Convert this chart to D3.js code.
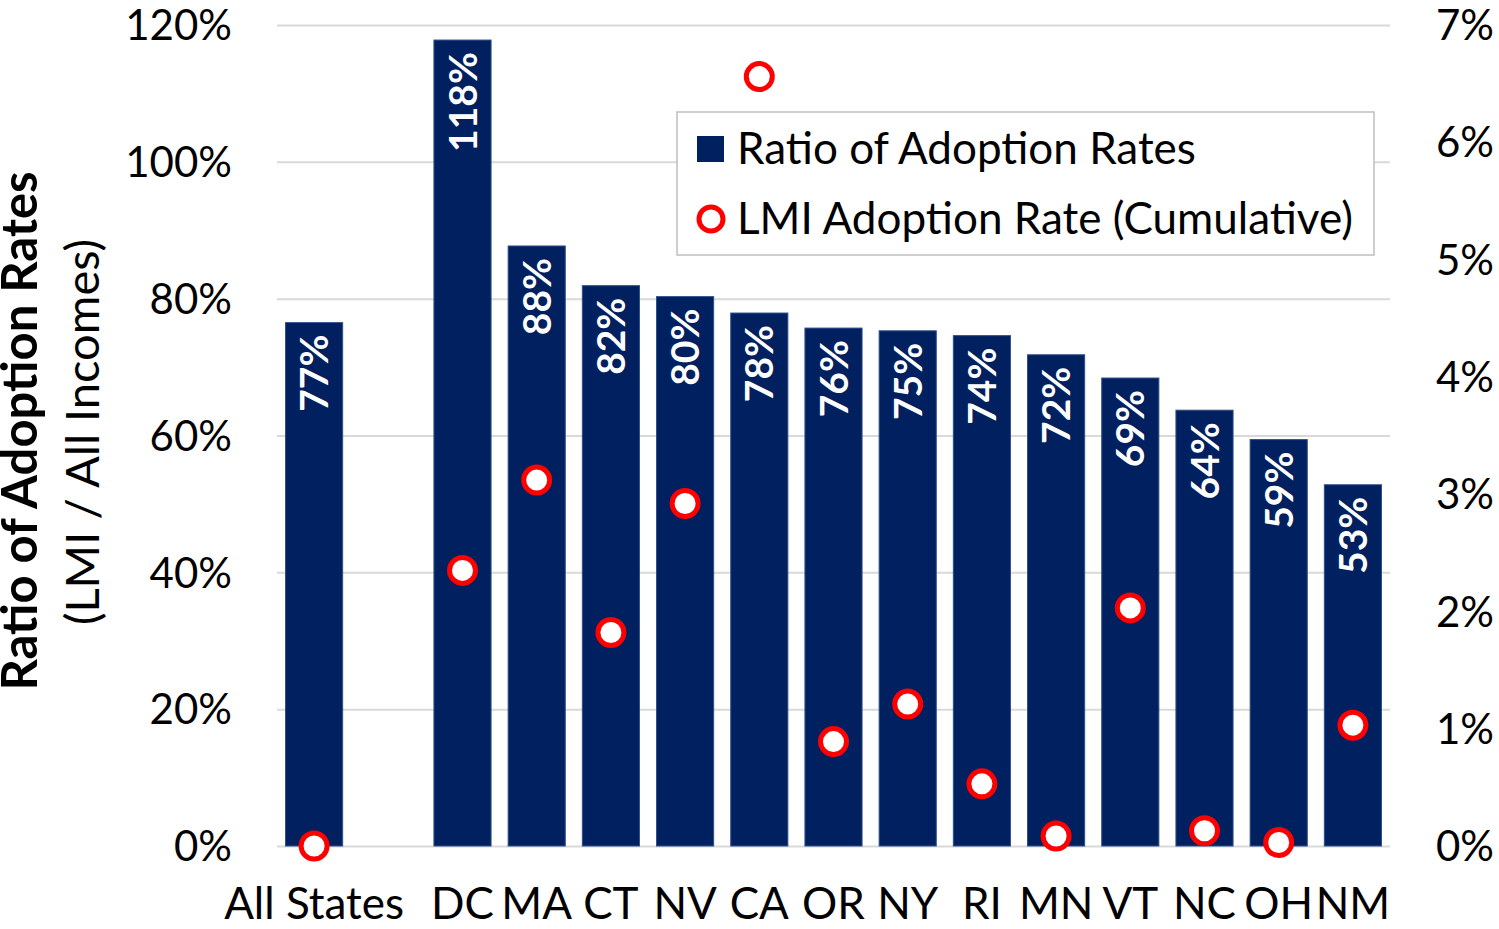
<!DOCTYPE html>
<html>
<head>
<meta charset="utf-8">
<script src="https://cdn.jsdelivr.net/npm/d3@7"></script>
<style>
  body { margin: 0; background: #fff; }
  svg text { font-family: Lato, "Open Sans", sans-serif; }
</style>
</head>
<body>
<svg id="chart" width="1499" height="929"></svg>
<script>
// categories, "" is the empty slot after All States
const states = ['All States', '', 'DC', 'MA', 'CT', 'NV', 'CA', 'OR', 'NY', 'RI', 'MN', 'VT', 'NC', 'OH', 'NM'];
const ratioValues = [76.5, null, 117.8, 87.7, 81.9, 80.3, 77.9, 75.7, 75.3, 74.6, 71.8, 68.4, 63.7, 59.4, 52.8];
const ratioLabels = ['77%', '', '118%', '88%', '82%', '80%', '78%', '76%', '75%', '74%', '72%', '69%', '64%', '59%', '53%'];
const lmiValues = [0.0, null, 2.35, 3.12, 1.82, 2.92, 6.56, 0.89, 1.21, 0.53, 0.085, 2.03, 0.13, 0.03, 1.03];
const leftTicks = [0, 20, 40, 60, 80, 100, 120];
const rightTicks = [0, 1, 2, 3, 4, 5, 6, 7];

const svg = d3.select('#chart');
const margin = { left: 277, right: 109, top: 25, bottom: 83 };
const width = +svg.attr('width');
const height = +svg.attr('height');
const innerWidth = width - margin.left - margin.right;
const innerHeight = height - margin.top - margin.bottom;

const navy = '#002060';
const red = '#ff0000';

const xScale = d3.scaleBand()
  .domain(d3.range(states.length))
  .range([0, innerWidth])
  .paddingInner(0.23)
  .paddingOuter(0.115);

const yScale = d3.scaleLinear().domain([0, 120]).range([innerHeight, 0]);
const y2Scale = d3.scaleLinear().domain([0, 7]).range([innerHeight, 0]);

const g = svg.append('g').attr('transform', `translate(${margin.left},${margin.top})`);

// gridlines + left axis
const yAxis = d3.axisLeft(yScale)
  .tickValues(leftTicks)
  .tickSize(-innerWidth)
  .tickPadding(45)
  .tickFormat(d => d + '%');
const yAxisG = g.append('g').call(yAxis);
yAxisG.select('.domain').remove();
yAxisG.selectAll('line').attr('stroke', '#d9d9d9').attr('stroke-width', 2);
yAxisG.selectAll('text')
  .attr('font-size', 42)
  .attr('fill', '#000')
  .attr('dy', '0.35em');

// right axis
const y2Axis = d3.axisRight(y2Scale)
  .tickValues(rightTicks)
  .tickSize(0)
  .tickPadding(46)
  .tickFormat(d => d + '%');
const y2AxisG = g.append('g').attr('transform', `translate(${innerWidth},0)`).call(y2Axis);
y2AxisG.select('.domain').remove();
y2AxisG.selectAll('text')
  .attr('font-size', 42)
  .attr('fill', '#000')
  .attr('dy', '0.35em');

// x labels (skip the empty slot)
const xAxis = d3.axisBottom(xScale)
  .tickValues(d3.range(states.length).filter(i => states[i] !== ''))
  .tickSize(0)
  .tickPadding(42)
  .tickFormat(i => states[i]);
const xAxisG = g.append('g').attr('transform', `translate(0,${innerHeight})`).call(xAxis);
xAxisG.select('.domain').remove();
xAxisG.selectAll('text')
  .attr('font-size', 44)
  .attr('fill', '#000');

const barData = states.map((s, i) => ({ i, v: ratioValues[i], label: ratioLabels[i], lmi: lmiValues[i] }))
  .filter(d => d.v !== null);

// bars
g.selectAll('rect.bar').data(barData)
  .enter().append('rect')
    .attr('class', 'bar')
    .attr('x', d => xScale(d.i))
    .attr('y', d => yScale(d.v))
    .attr('width', xScale.bandwidth())
    .attr('height', d => innerHeight - yScale(d.v))
    .attr('fill', navy)
    .attr('stroke', '#2f4f8a')
    .attr('stroke-width', 1);

// bar labels, rotated
g.selectAll('text.bar-label').data(barData)
  .enter().append('text')
    .attr('class', 'bar-label')
    .attr('transform', d => `translate(${xScale(d.i) + xScale.bandwidth() / 2},${yScale(d.v) + 12}) rotate(-90)`)
    .attr('text-anchor', 'end')
    .attr('dy', '0.36em')
    .attr('font-size', 39)
    .attr('font-weight', 'bold')
    .attr('fill', '#fff')
    .text(d => d.label);

// LMI markers
g.selectAll('circle.lmi').data(barData)
  .enter().append('circle')
    .attr('class', 'lmi')
    .attr('cx', d => xScale(d.i) + xScale.bandwidth() / 2)
    .attr('cy', d => y2Scale(d.lmi))
    .attr('r', 13)
    .attr('fill', '#fff')
    .attr('stroke', red)
    .attr('stroke-width', 5);

// y axis title
svg.append('text')
  .attr('transform', 'translate(37,431) rotate(-90)')
  .attr('text-anchor', 'middle')
  .attr('font-size', 49)
  .attr('font-weight', 'bold')
  .text('Ratio of Adoption Rates');
svg.append('text')
  .attr('transform', 'translate(99,432) rotate(-90)')
  .attr('text-anchor', 'middle')
  .attr('font-size', 47)
  .text('(LMI / All Incomes)');

// legend
const legend = svg.append('g').attr('transform', 'translate(677,112)');
legend.append('rect')
  .attr('width', 697).attr('height', 143)
  .attr('fill', '#fff').attr('stroke', '#bfbfbf').attr('stroke-width', 1.5);
legend.append('rect')
  .attr('x', 20).attr('y', 24).attr('width', 27).attr('height', 26)
  .attr('fill', navy);
legend.append('text')
  .attr('x', 60).attr('y', 37).attr('dy', '0.35em')
  .attr('font-size', 44)
  .text('Ratio of Adoption Rates');
legend.append('circle')
  .attr('cx', 34).attr('cy', 107).attr('r', 12)
  .attr('fill', '#fff').attr('stroke', red).attr('stroke-width', 5);
legend.append('text')
  .attr('x', 60).attr('y', 107).attr('dy', '0.35em')
  .attr('font-size', 44)
  .text('LMI Adoption Rate (Cumulative)');
</script>
</body>
</html>
